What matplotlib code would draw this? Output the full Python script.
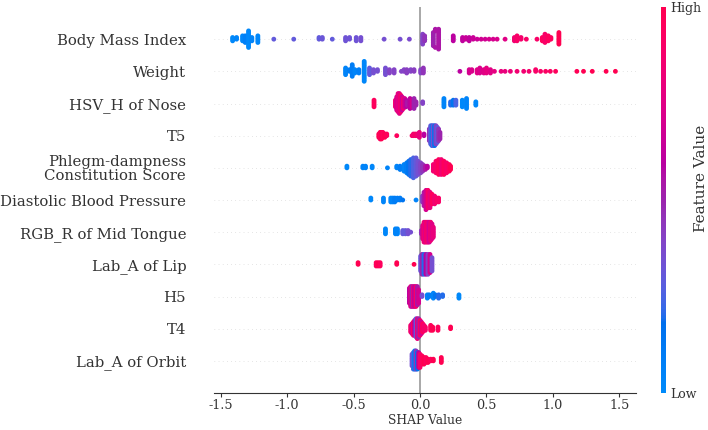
import numpy as np
import matplotlib
matplotlib.use("Agg")
import matplotlib.pyplot as plt
from matplotlib.colors import LinearSegmentedColormap
from matplotlib.cm import ScalarMappable

# feature names, top to bottom
features = ["Body Mass Index", "Weight", "HSV_H of Nose", "T5",
            "Phlegm-dampness\nConstitution Score", "Diastolic Blood Pressure",
            "RGB_R of Mid Tongue", "Lab_A of Lip", "H5", "T4", "Lab_A of Orbit"]

# each row: shap values, how many samples sit on that value, feature value (0 low .. 1 high)
bmi_shap = [-1.41, -1.38, -1.335, -1.315, -1.29, -1.265, -1.22, -1.10, -0.95, -0.76, -0.735,
            -0.66, -0.56, -0.53, -0.48, -0.445, -0.27, -0.15, -0.08, 0.02, 0.035, 0.10, 0.115,
            0.14, 0.25, 0.32, 0.345, 0.37, 0.40, 0.43, 0.46, 0.49, 0.52, 0.55, 0.58, 0.64,
            0.71, 0.73, 0.76, 0.80, 0.88, 0.92, 0.94, 0.965, 0.985, 1.045]
bmi_count = [3, 2, 4, 5, 11, 3, 5, 1, 1, 2, 2, 1, 3, 2, 3, 3, 1, 1, 1, 7, 4, 9, 3,
             13, 4, 3, 2, 3, 2, 1, 1, 1, 1, 1, 1, 1, 3, 4, 2, 1, 1, 3, 6, 4, 2, 8]
bmi_color = [0.02, 0.05, 0.03, 0.08, 0.02, 0.05, 0.03, 0.3, 0.3, 0.3, 0.32, 0.3, 0.33, 0.33,
             0.33, 0.35, 0.35, 0.35, 0.37, 0.40, 0.45, 0.5, 0.55, 0.55, 0.6, 0.62, 0.65, 0.62,
             0.65, 0.66, 0.68, 0.68, 0.7, 0.7, 0.72, 0.75, 0.85, 0.9, 0.88, 0.9, 0.9, 0.95,
             0.9, 0.95, 0.95, 1.0]

weight_shap = [-0.56, -0.53, -0.51, -0.49, -0.46, -0.42, -0.38, -0.35, -0.32, -0.26, -0.23,
               -0.195, -0.14, -0.12, -0.10, -0.07, -0.045, 0.005, 0.025, 0.30, 0.37, 0.39,
               0.43, 0.45, 0.48, 0.50, 0.53, 0.56, 0.61, 0.64, 0.68, 0.73, 0.78, 0.82, 0.87,
               0.907, 0.945, 0.98, 1.02, 1.18, 1.23, 1.296, 1.40, 1.47]
weight_count = [5, 2, 8, 3, 3, 13, 5, 3, 2, 5, 3, 3, 1, 2, 3, 2, 2, 3, 4, 1, 3, 2,
                3, 4, 3, 4, 3, 1, 1, 1, 1, 1, 1, 1, 2, 1, 1, 1, 1, 1, 1, 1, 1, 1]
weight_color = [0.05, 0.1, 0.1, 0.05, 0.08, 0.03, 0.3, 0.35, 0.35, 0.35, 0.4, 0.4, 0.4, 0.4,
                0.42, 0.4, 0.42, 0.4, 0.45, 0.6, 0.7, 0.72, 0.75, 0.72, 0.75, 0.78, 0.75,
                0.78, 0.8, 0.8, 0.82, 0.85, 0.85, 0.87, 0.9, 0.9, 0.92, 0.92, 0.95, 0.98,
                1.0, 1.0, 1.0, 1.0]

nose_shap = [-0.346, -0.185, -0.175, -0.165, -0.155, -0.145, -0.135, -0.125, -0.115, -0.105,
             -0.095, -0.075, -0.06, -0.045, -0.03, 0.02, 0.18, 0.23, 0.25, 0.27, 0.318,
             0.35, 0.42]
nose_count = [5, 5, 9, 12, 13, 11, 9, 7, 6, 5, 3, 7, 5, 7, 3, 2, 6, 3, 4, 4, 5, 7, 3]
nose_color = [0.95, 0.85, 0.7, 0.8, 0.75, 0.9, 0.65, 0.85, 0.7, 0.6, 0.55, 0.6, 0.7, 0.5,
              0.5, 0.4, 0.05, 0.2, 0.15, 0.25, 0.02, 0.05, 0.03]

t5_shap = [-0.31, -0.30, -0.29, -0.28, -0.265, -0.25, -0.175, -0.06, -0.05, -0.035, -0.02,
           -0.005, 0.03, 0.07, 0.08, 0.09, 0.10, 0.11, 0.12, 0.13, 0.14, 0.15]
t5_count = [3, 5, 5, 4, 3, 2, 1, 1, 2, 2, 2, 4, 2, 8, 12, 13, 13, 13, 12, 10, 8, 5]
t5_color = [1.0, 0.95, 1.0, 0.95, 1.0, 0.95, 0.95, 0.9, 0.85, 0.9, 0.85, 0.8, 0.6, 0.45,
            0.3, 0.2, 0.35, 0.15, 0.4, 0.3, 0.45, 0.5]

phlegm_shap = [-0.55, -0.43, -0.41, -0.36, -0.245, -0.175, -0.15, -0.12, -0.10, -0.085,
               -0.07, -0.05, -0.03, -0.015, 0.005, 0.02, 0.04, 0.055, 0.10, 0.12, 0.14,
               0.16, 0.18, 0.20, 0.22, 0.23]
phlegm_count = [2, 2, 2, 2, 1, 2, 3, 5, 7, 9, 11, 13, 12, 9, 7, 5, 3, 2, 5, 8, 10, 10, 9,
                7, 5, 3]
phlegm_color = [0.02, 0.05, 0.05, 0.03, 0.05, 0.05, 0.1, 0.05, 0.1, 0.15, 0.2, 0.25, 0.3,
                0.35, 0.4, 0.45, 0.55, 0.6, 0.85, 0.9, 0.95, 0.85, 0.95, 0.9, 0.95, 1.0]

dbp_shap = [-0.37, -0.275, -0.22, -0.205, -0.19, -0.17, -0.15, -0.13, -0.03, 0.018, 0.03,
            0.045, 0.06, 0.075, 0.09, 0.11, 0.125, 0.14]
dbp_count = [2, 3, 3, 3, 3, 2, 2, 1, 1, 4, 8, 11, 10, 9, 6, 5, 3, 3]
dbp_color = [0.03, 0.05, 0.03, 0.05, 0.1, 0.08, 0.1, 0.15, 0.05, 0.4, 0.55, 0.7, 0.9, 0.8,
             0.95, 0.85, 0.9, 0.9]

tongue_shap = [-0.26, -0.185, -0.17, -0.13, -0.11, -0.09, -0.07, 0.01, 0.02, 0.03, 0.04,
               0.05, 0.06, 0.07, 0.08, 0.09, 0.10]
tongue_count = [4, 4, 4, 3, 3, 3, 1, 3, 9, 13, 13, 13, 13, 13, 12, 10, 7]
tongue_color = [0.03, 0.05, 0.05, 0.3, 0.3, 0.35, 0.35, 0.45, 0.7, 0.85, 0.75, 0.9, 0.8,
                0.7, 0.85, 0.75, 0.8]

lip_shap = [-0.466, -0.33, -0.315, -0.30, -0.175, -0.045, 0.005, 0.015, 0.03, 0.045, 0.06,
            0.075, 0.09]
lip_count = [2, 3, 3, 3, 2, 1, 10, 13, 13, 13, 13, 12, 9]
lip_color = [1.0, 0.95, 1.0, 0.95, 1.0, 1.0, 0.3, 0.5, 0.2, 0.6, 0.4, 0.7, 0.35]

h5_shap = [-0.08, -0.07, -0.06, -0.05, -0.04, -0.03, -0.02, -0.01, 0.015, 0.055, 0.07, 0.10,
           0.115, 0.14, 0.17, 0.293]
h5_count = [10, 13, 13, 13, 13, 13, 12, 9, 2, 3, 2, 4, 2, 3, 2, 3]
h5_color = [0.6, 0.75, 0.5, 0.8, 0.6, 0.9, 0.55, 0.7, 0.35, 0.05, 0.1, 0.05, 0.15, 0.2,
            0.2, 0.02]

t4_shap = [-0.07, -0.06, -0.05, -0.04, -0.03, -0.02, -0.01, 0.0, 0.01, 0.02, 0.03, 0.04,
           0.08, 0.095, 0.135, 0.23]
t4_count = [5, 7, 9, 10, 12, 13, 12, 10, 8, 6, 4, 3, 4, 3, 3, 2]
t4_color = [0.9, 0.7, 0.95, 0.6, 0.3, 0.8, 0.5, 0.9, 0.7, 0.95, 0.85, 0.9, 0.95, 1.0,
            0.95, 1.0]

orbit_shap = [-0.06, -0.05, -0.04, -0.03, -0.02, -0.01, 0.0, 0.015, 0.03, 0.045, 0.06, 0.08,
              0.10, 0.16]
orbit_count = [8, 11, 12, 12, 11, 10, 9, 6, 5, 4, 3, 2, 2, 4]
orbit_color = [0.35, 0.25, 0.1, 0.45, 0.15, 0.6, 0.9, 0.95, 1.0, 0.95, 1.0, 0.95, 1.0, 1.0]

rows = [(bmi_shap, bmi_count, bmi_color), (weight_shap, weight_count, weight_color),
        (nose_shap, nose_count, nose_color), (t5_shap, t5_count, t5_color),
        (phlegm_shap, phlegm_count, phlegm_color), (dbp_shap, dbp_count, dbp_color),
        (tongue_shap, tongue_count, tongue_color), (lip_shap, lip_count, lip_color),
        (h5_shap, h5_count, h5_color), (t4_shap, t4_count, t4_color),
        (orbit_shap, orbit_count, orbit_color)]


def lab_to_rgb(L, a, b):
    fy = (L + 16) / 116.0
    fx = fy + a / 500.0
    fz = fy - b / 200.0
    finv = lambda t: np.where(t > 6 / 29, t ** 3, 3 * (6 / 29) ** 2 * (t - 4 / 29))
    xyz = np.array([0.95047 * finv(fx), finv(fy), 1.08883 * finv(fz)])
    m = np.array([[3.2406, -1.5372, -0.4986],
                  [-0.9689, 1.8758, 0.0415],
                  [0.0557, -0.2040, 1.0570]])
    lin = m @ xyz
    rgb = np.where(lin <= 0.0031308, 12.92 * lin, 1.055 * np.abs(lin) ** (1 / 2.4) - 0.055)
    return np.clip(rgb, 0, 1)


# shap's red_blue map, interpolated in LCh
blue_lch = [54.0, 70.0, 4.6588]
red_lch = [54.0, 90.0, 0.35470565 + 2 * np.pi]
nsteps = 100
l_vals = list(np.linspace(blue_lch[0], 40.0, nsteps // 2)) + list(np.linspace(40.0, red_lch[0], nsteps // 2))
c_vals = np.linspace(blue_lch[1], red_lch[1], nsteps)
h_vals = np.linspace(blue_lch[2], red_lch[2], nsteps)
cols = [lab_to_rgb(l, c * np.cos(h), c * np.sin(h)) for l, c, h in zip(l_vals, c_vals, h_vals)]
red_blue = LinearSegmentedColormap.from_list("red_blue", cols)


def swarm(shaps, row_height=0.4):
    n = len(shaps)
    quant = np.round(100 * (shaps - shaps.min()) / (shaps.max() - shaps.min() + 1e-8))
    inds = np.argsort(quant, kind="stable")
    layer = 0
    last_bin = -1
    ys = np.zeros(n)
    for ind in inds:
        if quant[ind] != last_bin:
            layer = 0
        ys[ind] = np.ceil(layer / 2) * ((layer % 2) * 2 - 1)
        layer += 1
        last_bin = quant[ind]
    ys *= 0.9 * (row_height / np.max(ys + 1))
    return ys


plt.rcParams["font.family"] = "DejaVu Serif"
plt.rcParams["axes.unicode_minus"] = False
axis_color = "#333333"

fig = plt.figure(figsize=(7.08, 4.30), dpi=100)
ax = fig.add_axes([214 / 708, 37 / 430, 422 / 708, 386 / 430])

n = len(features)
ax.axvline(x=0, color="#999999", lw=1.2, zorder=-1)
for i, (vals, counts, colors) in enumerate(rows):
    pos = n - 1 - i
    ax.axhline(y=pos, color="#cccccc", lw=0.5, dashes=(1, 5), zorder=-1)
    shaps = np.repeat(np.array(vals, dtype=float), counts)
    fvals = np.repeat(np.array(colors, dtype=float), counts)
    ys = swarm(shaps)
    ax.scatter(shaps, pos + ys, c=fvals, cmap=red_blue, vmin=0, vmax=1,
               s=12, linewidth=0, alpha=1, zorder=3)

ax.set_xlim(-1.55, 1.625)
ax.set_ylim(-1, n)
ax.set_xticks([-1.5, -1.0, -0.5, 0.0, 0.5, 1.0, 1.5])
ax.set_yticks(range(n))
ax.set_yticklabels(features[::-1], fontsize=10.7)
for lbl in ax.get_yticklabels():
    lbl.set_linespacing(1.0)
for s in ["top", "right", "left"]:
    ax.spines[s].set_visible(False)
ax.spines["bottom"].set_color(axis_color)
ax.tick_params(color=axis_color, labelcolor=axis_color)
ax.tick_params("y", length=0, pad=20)
ax.tick_params("x", labelsize=9.2, length=3, pad=1.5)
ax.set_xlabel("SHAP Value", fontsize=8.8, color=axis_color, labelpad=1)

cax = fig.add_axes([661 / 708, 37 / 430, 5 / 708, 386 / 430])
sm = ScalarMappable(cmap=red_blue)
sm.set_array([0, 1])
cb = fig.colorbar(sm, cax=cax, ticks=[0, 1])
cb.set_ticklabels(["Low", "High"])
cb.outline.set_visible(False)
cax.tick_params(labelsize=9, length=0, pad=3, labelcolor=axis_color)
fig.text(701 / 708, 1 - 178 / 430, "Feature Value", rotation=90, ha="center", va="center",
         fontsize=11, color=axis_color)

fig.savefig("out.png", dpi=100)
